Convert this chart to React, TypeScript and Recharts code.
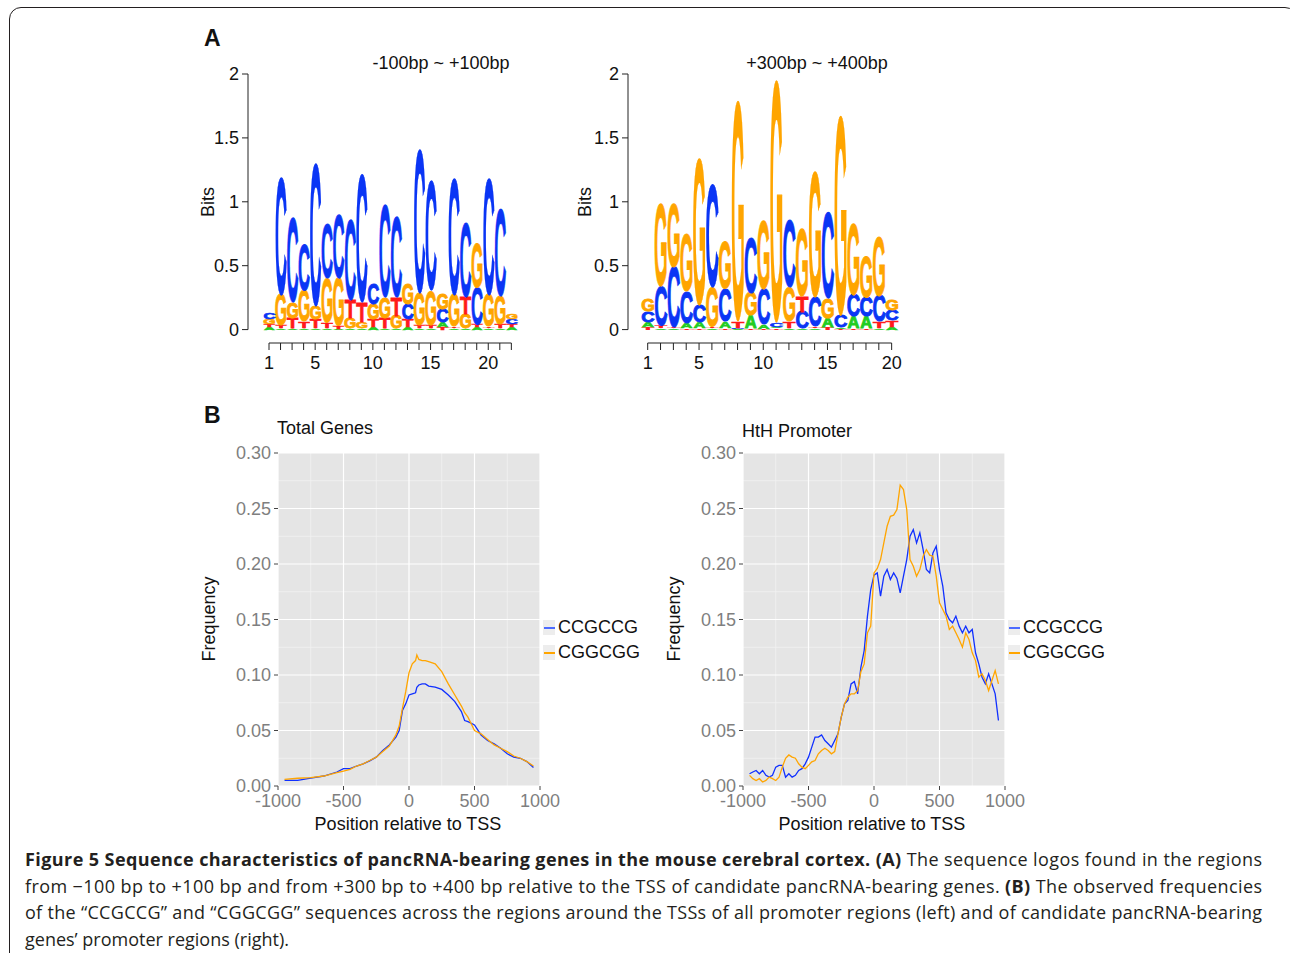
import React from "react";
import {
  BarChart,
  Bar,
  XAxis,
  YAxis,
  ReferenceLine,
  LineChart,
  Line,
  CartesianGrid,
  Legend,
} from "recharts";

const FONT = "'Liberation Sans', Arial, Helvetica, sans-serif";
const CAPTION_FONT = "'Open Sans', 'Noto Sans', sans-serif";

// ---------- Panel A: sequence logos (letters listed bottom -> top, heights in bits)
const logo1Letters = [
  "ATGC", "ATGC", "ATGC", "ATGC", "ATGC", "ATGC", "ATGC", "AGTC", "AGTC", "ATGC", "ATGC",
  "AGTC", "ATCG", "ATGC", "ATGC", "TACG", "ATGC", "AGTC", "ATCG", "ATGC", "ATGC", "ATCG",
];
const logo1Heights = [
  [0.02, 0.02, 0.04, 0.05], [0.01, 0.02, 0.24, 0.91], [0.01, 0.08, 0.12, 0.65], [0.01, 0.05, 0.24, 0.36],
  [0.01, 0.07, 0.1, 1.11], [0.01, 0.04, 0.35, 0.42], [0.005, 0.02, 0.38, 0.49], [0.01, 0.08, 0.14, 0.62],
  [0.01, 0.05, 0.15, 0.99], [0.02, 0.06, 0.12, 0.16], [0.01, 0.08, 0.16, 0.72], [0.01, 0.1, 0.14, 0.62],
  [0.02, 0.06, 0.12, 0.16], [0.01, 0.02, 0.25, 1.12], [0.01, 0.02, 0.27, 0.85], [0.02, 0.04, 0.1, 0.12],
  [0.01, 0.01, 0.25, 0.9], [0.01, 0.11, 0.13, 0.57], [0.02, 0.02, 0.29, 0.35], [0.01, 0.01, 0.25, 0.9],
  [0.01, 0.03, 0.22, 0.68], [0.02, 0.02, 0.04, 0.04],
];

const logo2Letters = [
  "TACG", "ATCG", "ATCG", "TACG", "TACG", "ATGC", "TACG", "ACTG", "TAGC", "TACG",
  "TACG", "ATGC", "ACTG", "ATCG", "TAGC", "TACG", "TACG", "TACG", "ATCG", "ATCG",
];
const logo2Heights = [
  [0.02, 0.04, 0.08, 0.09], [0.01, 0.02, 0.31, 0.63], [0.01, 0.01, 0.47, 0.49], [0.01, 0.04, 0.25, 0.44],
  [0.01, 0.05, 0.13, 1.14], [0.01, 0.01, 0.31, 0.8], [0.01, 0.05, 0.26, 0.37], [0.005, 0.005, 0.05, 1.71],
  [0.01, 0.1, 0.18, 0.43], [0.005, 0.03, 0.28, 0.53], [0.01, 0.01, 0.03, 1.88], [0.01, 0.05, 0.27, 0.52],
  [0.01, 0.13, 0.12, 0.52], [0.01, 0.01, 0.23, 0.97], [0.02, 0.07, 0.15, 0.67], [0.005, 0.01, 0.09, 1.55],
  [0.01, 0.09, 0.17, 0.55], [0.01, 0.09, 0.15, 0.32], [0.01, 0.05, 0.2, 0.46], [0.02, 0.05, 0.08, 0.08],
];

const logoYTicks = [0, 0.5, 1, 1.5, 2];
const logoLabelled = [1, 5, 10, 15, 20];

// ---------- Panel B: frequency profiles
const totalPos = [
  -950, -850, -750, -650, -550, -500, -450, -400, -350, -300, -250, -200, -150, -100, -75, -50, -25, 0, 25, 50, 60,
  75, 100, 125, 150, 200, 250, 300, 350, 400, 425, 450, 500, 550, 600, 650, 700, 750, 800, 850, 900, 950,
];
const totalCCGCCG = [
  0.005, 0.005, 0.007, 0.009, 0.0126, 0.0156, 0.0156, 0.018, 0.02, 0.0226, 0.026, 0.032, 0.037, 0.044, 0.05, 0.068,
  0.074, 0.082, 0.083, 0.084, 0.089, 0.091, 0.092, 0.092, 0.09, 0.089, 0.087, 0.082, 0.076, 0.067, 0.059, 0.058,
  0.055, 0.046, 0.041, 0.038, 0.034, 0.029, 0.026, 0.025, 0.022, 0.0166,
];
const totalCGGCGG = [
  0.006, 0.007, 0.0075, 0.009, 0.012, 0.0135, 0.015, 0.018, 0.02, 0.023, 0.026, 0.031, 0.036, 0.046, 0.054, 0.07,
  0.085, 0.102, 0.11, 0.113, 0.118, 0.114, 0.113, 0.113, 0.112, 0.11, 0.103, 0.092, 0.082, 0.072, 0.066, 0.062,
  0.05, 0.047, 0.042, 0.037, 0.034, 0.031, 0.027, 0.025, 0.022, 0.018,
];

const hthPos = [
  -950, -925, -900, -875, -850, -825, -800, -775, -750, -725, -700, -675, -650, -625, -600, -575, -550, -525, -500,
  -475, -450, -425, -400, -375, -350, -325, -300, -275, -250, -225, -200, -175, -150, -125, -100, -75, -50, -25, 0,
  25, 50, 75, 100, 125, 150, 175, 200, 225, 250, 275, 300, 325, 350, 375, 400, 425, 450, 475, 500, 525, 550, 575,
  600, 625, 650, 675, 700, 725, 750, 775, 800, 825, 850, 875, 900, 925, 950,
];
const hthCCGCCG = [
  0.011, 0.0126, 0.014, 0.011, 0.014, 0.0096, 0.008, 0.0096, 0.017, 0.0186, 0.0186, 0.008, 0.011, 0.008, 0.0096,
  0.014, 0.0156, 0.02, 0.026, 0.035, 0.044, 0.044, 0.046, 0.041, 0.038, 0.035, 0.041, 0.047, 0.062, 0.074, 0.077,
  0.092, 0.094, 0.083, 0.107, 0.122, 0.153, 0.177, 0.19, 0.192, 0.171, 0.189, 0.195, 0.186, 0.192, 0.187, 0.174,
  0.189, 0.204, 0.225, 0.231, 0.219, 0.228, 0.213, 0.195, 0.192, 0.21, 0.216, 0.195, 0.18, 0.156, 0.15, 0.147,
  0.153, 0.144, 0.138, 0.144, 0.138, 0.141, 0.12, 0.11, 0.098, 0.092, 0.101, 0.092, 0.083, 0.059,
];
const hthCGGCGG = [
  0.0096, 0.0066, 0.005, 0.0066, 0.0036, 0.005, 0.008, 0.0066, 0.005, 0.008, 0.017, 0.025, 0.028, 0.026, 0.025,
  0.02, 0.017, 0.0156, 0.0186, 0.0217, 0.023, 0.029, 0.032, 0.034, 0.032, 0.029, 0.031, 0.047, 0.062, 0.074, 0.08,
  0.083, 0.083, 0.086, 0.103, 0.11, 0.138, 0.144, 0.192, 0.196, 0.204, 0.219, 0.234, 0.243, 0.244, 0.249, 0.271,
  0.267, 0.249, 0.204, 0.198, 0.189, 0.195, 0.207, 0.213, 0.208, 0.207, 0.189, 0.165, 0.159, 0.153, 0.141, 0.144,
  0.138, 0.132, 0.125, 0.138, 0.132, 0.12, 0.113, 0.098, 0.101, 0.095, 0.086, 0.095, 0.104, 0.092,
];

const freqTicks = [0, 0.05, 0.1, 0.15, 0.2, 0.25, 0.3];
const freqMinor = [0.025, 0.075, 0.125, 0.175, 0.225, 0.275];
const posTicks = [-1000, -500, 0, 500, 1000];
const posMinor = [-750, -250, 250, 750];
const seriesNames = ["CCGCCG", "CGGCGG"];

const BLUE = "#1030ff";
const ORANGE = "#ffa500";

const LETTER_COLORS: Record<string, string> = { A: "#22cc22", C: "#0a35f5", G: "#ffa500", T: "#ff1a1a" };
// glyph ink box of Liberation Sans Bold at font size 100: width, height, depth below baseline
const GLYPH: Record<string, { w: number; h: number; d: number }> = {
  A: { w: 70, h: 68.8, d: 0 },
  C: { w: 62, h: 70.5, d: 1.3 },
  G: { w: 66, h: 70.5, d: 1.3 },
  T: { w: 57, h: 68.8, d: 0 },
};

const buildLogoRows = (letters: string[], heights: number[][]) =>
  letters.map((ls, i) => ({
    pos: i + 1,
    s0: heights[i][0],
    s1: heights[i][1],
    s2: heights[i][2],
    s3: heights[i][3],
    l0: ls[0],
    l1: ls[1],
    l2: ls[2],
    l3: ls[3],
  }));

// stretch one letter glyph over the stacked bar rectangle
const letterShape = (slot: number) => (props: any) => {
  const { x, y, width, height, payload } = props;
  if (!height || height < 0.3) return <g />;
  const ch = payload[`l${slot}`];
  const g = GLYPH[ch];
  const sx = width / g.w;
  const sy = height / g.h;
  const color = LETTER_COLORS[ch];
  return (
    <text
      transform={`translate(${x + width / 2},${y + height - g.d * sy}) scale(${sx},${sy})`}
      textAnchor="middle"
      fontFamily={FONT}
      fontWeight="bold"
      fontSize={100}
      fill={color}
      stroke={color}
      strokeWidth={0.9}
      vectorEffect="non-scaling-stroke"
    >
      {ch}
    </text>
  );
};

const SeqLogo = ({ rows, xDomain, barSize }: { rows: any[]; xDomain: [number, number]; barSize: number }) => {
  const n = rows.length;
  const ticks = rows.map((r) => r.pos);
  const yMin = -0.105;
  return (
    <BarChart width={340} height={330} data={rows} margin={{ top: 24, right: 10, bottom: 7, left: 18 }}>
      <XAxis
        dataKey="pos"
        type="number"
        domain={xDomain}
        allowDataOverflow
        ticks={ticks}
        interval={0}
        axisLine={false}
        tickSize={7}
        tickMargin={6}
        height={30}
        tickLine={{ stroke: "#222" }}
        tick={{ fill: "#111", fontSize: 18, fontFamily: FONT }}
        tickFormatter={(v: number) => (logoLabelled.includes(v) ? String(v) : "")}
      />
      <YAxis
        type="number"
        domain={[yMin, 2]}
        allowDataOverflow
        ticks={logoYTicks}
        interval={0}
        axisLine={false}
        width={40}
        tickSize={6}
        tickMargin={3}
        tickLine={{ stroke: "#222" }}
        tick={{ fill: "#111", fontSize: 18, fontFamily: FONT }}
        tickFormatter={(v: number) => String(v)}
      />
      {[0, 1, 2, 3].map((k) => (
        <Bar
          key={k}
          dataKey={`s${k}`}
          stackId="logo"
          barSize={barSize}
          shape={letterShape(k)}
          isAnimationActive={false}
        />
      ))}
      <ReferenceLine
        segment={[{ x: xDomain[0], y: 0 }, { x: xDomain[0], y: 2 }]}
        stroke="#222"
        strokeWidth={1}
        ifOverflow="visible"
      />
      <ReferenceLine
        segment={[{ x: 1, y: yMin }, { x: n, y: yMin }]}
        stroke="#222"
        strokeWidth={1}
        ifOverflow="visible"
      />
    </BarChart>
  );
};

const FreqLegend = () => (
  <div style={{ fontFamily: FONT, fontSize: 18, color: "#111" }}>
    {seriesNames.map((name, i) => (
      <div key={name} style={{ display: "flex", alignItems: "center", height: 25 }}>
        <div
          style={{
            width: 12,
            height: 15,
            background: "#ededed",
            display: "flex",
            alignItems: "center",
            marginRight: 3,
          }}
        >
          <div style={{ width: 11, height: 2, marginLeft: 0.5, background: i === 0 ? "#4d6bff" : ORANGE }} />
        </div>
        <span>{name}</span>
      </div>
    ))}
  </div>
);

const FreqChart = ({ pos, a, b }: { pos: number[]; a: number[]; b: number[] }) => {
  const rows = pos.map((p, i) => ({ pos: p, ccgccg: a[i], cggcgg: b[i] }));
  return (
    <LineChart width={460} height={400} data={rows} margin={{ top: 13, right: 120, bottom: 24, left: 18 }}>
      <CartesianGrid
        fill="#e5e5e5"
        stroke="#f3f3f3"
        strokeWidth={0.7}
        horizontalValues={freqMinor}
        verticalValues={posMinor}
      />
      <CartesianGrid stroke="#ffffff" strokeWidth={1.2} horizontalValues={freqTicks} verticalValues={posTicks} />
      <XAxis
        dataKey="pos"
        type="number"
        domain={[-1000, 1000]}
        allowDataOverflow
        ticks={posTicks}
        interval={0}
        axisLine={false}
        height={30}
        tickSize={4}
        tickMargin={4}
        tickLine={{ stroke: "#444" }}
        tick={{ fill: "#7f7f7f", fontSize: 18, fontFamily: FONT }}
      />
      <YAxis
        type="number"
        domain={[0, 0.3]}
        allowDataOverflow
        ticks={freqTicks}
        interval={0}
        axisLine={false}
        width={60}
        tickSize={4}
        tickMargin={3}
        tickLine={{ stroke: "#444" }}
        tick={{ fill: "#7f7f7f", fontSize: 18, fontFamily: FONT }}
        tickFormatter={(v: number) => v.toFixed(2)}
      />
      <Line type="linear" dataKey="ccgccg" stroke={BLUE} strokeWidth={1.3} dot={false} isAnimationActive={false} />
      <Line type="linear" dataKey="cggcgg" stroke={ORANGE} strokeWidth={1.3} dot={false} isAnimationActive={false} />
      <Legend
        layout="vertical"
        align="center"
        verticalAlign="middle"
        content={() => <FreqLegend />}
        wrapperStyle={{ left: 343, top: 175, width: 110 }}
      />
    </LineChart>
  );
};

const abs = (left: number, top: number): React.CSSProperties => ({ position: "absolute", left, top });

export default function App() {
  const logo1Rows = buildLogoRows(logo1Letters, logo1Heights);
  const logo2Rows = buildLogoRows(logo2Letters, logo2Heights);
  return (
    <div style={{ position: "relative", width: 1290, height: 953, overflow: "hidden", background: "#fff" }}>
      <style>{`body{margin:0}`}</style>
      <div
        style={{
          position: "absolute",
          left: 9,
          top: 7,
          width: 1286,
          height: 1000,
          border: "1.5px solid #231f20",
          borderRadius: 12,
        }}
      />
      <div style={abs(190, 50)}>
        <SeqLogo rows={logo1Rows} xDomain={[-0.82, 22.75]} barSize={12} />
      </div>
      <div style={abs(570, 50)}>
        <SeqLogo rows={logo2Rows} xDomain={[-0.534, 20.65]} barSize={13} />
      </div>
      <div style={abs(200, 440)}>
        <FreqChart pos={totalPos} a={totalCCGCCG} b={totalCGGCGG} />
      </div>
      <div style={abs(665, 440)}>
        <FreqChart pos={hthPos} a={hthCCGCCG} b={hthCGGCGG} />
      </div>
      <svg width={1290} height={953} style={{ position: "absolute", left: 0, top: 0, pointerEvents: "none" }}>
        <g fontFamily={FONT} fill="#111">
          <text x={204} y={46} fontSize={23} fontWeight="bold">A</text>
          <text x={204} y={423} fontSize={23} fontWeight="bold">B</text>
          <text x={441} y={69} fontSize={18} textAnchor="middle">-100bp ~ +100bp</text>
          <text x={817} y={69} fontSize={18} textAnchor="middle">+300bp ~ +400bp</text>
          <text transform="translate(214,202) rotate(-90)" fontSize={18} textAnchor="middle">Bits</text>
          <text transform="translate(591,202) rotate(-90)" fontSize={18} textAnchor="middle">Bits</text>
          <text x={277} y={434} fontSize={18}>Total Genes</text>
          <text x={742} y={437} fontSize={18}>HtH Promoter</text>
          <text transform="translate(214.5,619) rotate(-90)" fontSize={18} textAnchor="middle">Frequency</text>
          <text transform="translate(679.5,619) rotate(-90)" fontSize={18} textAnchor="middle">Frequency</text>
          <text x={408} y={830} fontSize={18} textAnchor="middle">Position relative to TSS</text>
          <text x={872} y={830} fontSize={18} textAnchor="middle">Position relative to TSS</text>
        </g>
        <g fontFamily={CAPTION_FONT} fontSize={18} fill="#231f20">
          <text x={25} y={866} textLength={1237} lengthAdjust="spacing">
            <tspan fontWeight="bold">Figure 5 Sequence characteristics of pancRNA-bearing genes in the mouse cerebral cortex. (A)</tspan>
            <tspan> The sequence logos found in the regions</tspan>
          </text>
          <text x={25} y={892.5} textLength={1237} lengthAdjust="spacing">
            <tspan>from −100 bp to +100 bp and from +300 bp to +400 bp relative to the TSS of candidate pancRNA-bearing genes. </tspan>
            <tspan fontWeight="bold">(B)</tspan>
            <tspan> The observed frequencies</tspan>
          </text>
          <text x={25} y={919} textLength={1237} lengthAdjust="spacing">
            of the “CCGCCG” and “CGGCGG” sequences across the regions around the TSSs of all promoter regions (left) and of candidate pancRNA-bearing
          </text>
          <text x={25} y={945.5}>genes’ promoter regions (right).</text>
        </g>
      </svg>
    </div>
  );
}
